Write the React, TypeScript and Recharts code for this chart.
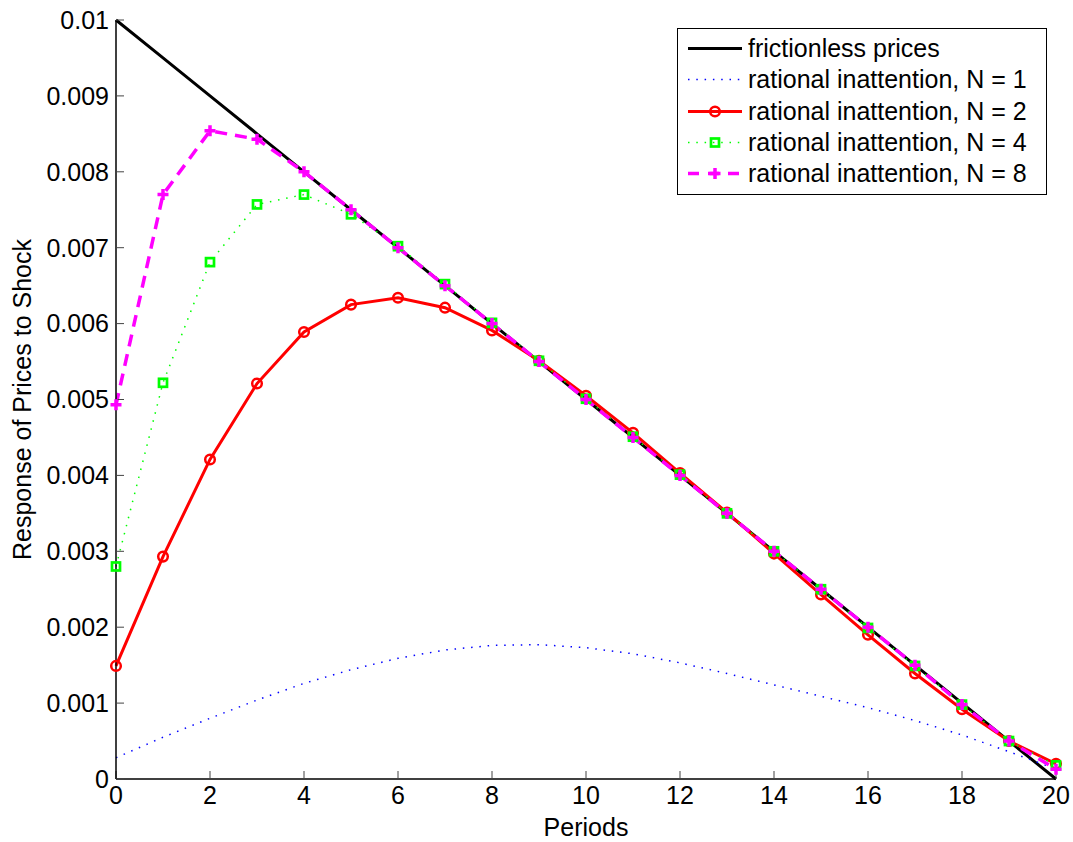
import React from 'react';
import { LineChart, Line, XAxis, YAxis, Legend, Label } from 'recharts';

const periods = [0, 1, 2, 3, 4, 5, 6, 7, 8, 9, 10, 11, 12, 13, 14, 15, 16, 17, 18, 19, 20];
const frictionless = [0.01, 0.0095, 0.009, 0.0085, 0.008, 0.0075, 0.007, 0.0065, 0.006, 0.0055, 0.005, 0.0045, 0.004, 0.0035, 0.003, 0.0025, 0.002, 0.0015, 0.001, 0.0005, 0];
const riN1 = [0.00028, 0.00055, 0.0008, 0.00104, 0.00126, 0.00144, 0.00159, 0.0017, 0.00176, 0.00177, 0.00173, 0.00165, 0.00153, 0.00139, 0.00124, 0.00109, 0.00094, 0.00077, 0.00058, 0.00036, 0.00013];
const riN2 = [0.00149, 0.00293, 0.00421, 0.00521, 0.00589, 0.00625, 0.00634, 0.00621, 0.00591, 0.00551, 0.00505, 0.00456, 0.00403, 0.00351, 0.00297, 0.00243, 0.0019, 0.00139, 0.00092, 0.0005, 0.0002];
const riN4 = [0.0028, 0.00522, 0.00681, 0.00757, 0.0077, 0.00744, 0.00702, 0.00652, 0.00601, 0.00551, 0.00501, 0.00451, 0.00401, 0.0035, 0.003, 0.0025, 0.00199, 0.00149, 0.00098, 0.0005, 0.00018];
const riN8 = [0.00493, 0.0077, 0.00854, 0.00843, 0.008, 0.0075, 0.007, 0.0065, 0.006, 0.0055, 0.005, 0.0045, 0.004, 0.0035, 0.003, 0.0025, 0.002, 0.0015, 0.00098, 0.0005, 0.00013];

const xTicks = [0, 2, 4, 6, 8, 10, 12, 14, 16, 18, 20];
const yTicks = [0, 0.001, 0.002, 0.003, 0.004, 0.005, 0.006, 0.007, 0.008, 0.009, 0.01];

const seriesLabels = [
  'frictionless prices',
  'rational inattention, N = 1',
  'rational inattention, N = 2',
  'rational inattention, N = 4',
  'rational inattention, N = 8',
];

const data = periods.map((t, i) => ({
  t,
  fp: frictionless[i],
  n1: riN1[i],
  n2: riN2[i],
  n4: riN4[i],
  n8: riN8[i],
}));

const FONT = '"Liberation Sans", Arial, Helvetica, sans-serif';
const RED = '#ff0000';
const GREEN = '#00ff00';
const MAGENTA = '#ff00ff';
const BLUE = '#0000ff';

const CircleDot = (props: any) => {
  const { cx, cy, index } = props;
  if (cx == null || cy == null) return <g key={`c${index}`} />;
  return <circle key={`c${index}`} cx={cx} cy={cy} r={4.8} fill="none" stroke={RED} strokeWidth={2.5} />;
};

const SquareDot = (props: any) => {
  const { cx, cy, index } = props;
  if (cx == null || cy == null) return <g key={`s${index}`} />;
  return <rect key={`s${index}`} x={cx - 4} y={cy - 4} width={8} height={8} fill="none" stroke={GREEN} strokeWidth={2.7} />;
};

const PlusDot = (props: any) => {
  const { cx, cy, index } = props;
  if (cx == null || cy == null) return <g key={`p${index}`} />;
  return (
    <path
      key={`p${index}`}
      d={`M${cx - 5.5},${cy}L${cx + 5.5},${cy}M${cx},${cy - 5.5}L${cx},${cy + 5.5}`}
      stroke={MAGENTA}
      strokeWidth={3.5}
      fill="none"
    />
  );
};

const LegendBox = () => {
  const sample = (i: number) => {
    const y = 15.5;
    if (i === 0) return <line x1={0} y1={y} x2={54} y2={y} stroke="#000" strokeWidth={3} />;
    if (i === 1) return <line x1={0} y1={y} x2={54} y2={y} stroke={BLUE} strokeWidth={1.5} strokeDasharray="1.5 6.8" />;
    if (i === 2)
      return (
        <g>
          <line x1={0} y1={y} x2={54} y2={y} stroke={RED} strokeWidth={3} />
          <circle cx={27} cy={y} r={4.8} fill="none" stroke={RED} strokeWidth={2.5} />
        </g>
      );
    if (i === 3)
      return (
        <g>
          <line x1={0} y1={y} x2={54} y2={y} stroke={GREEN} strokeWidth={1.5} strokeDasharray="1.5 6.8" />
          <rect x={23} y={y - 4} width={8} height={8} fill="none" stroke={GREEN} strokeWidth={2.7} />
        </g>
      );
    return (
      <g>
        <line x1={0} y1={y} x2={54} y2={y} stroke={MAGENTA} strokeWidth={3.5} strokeDasharray="11 9" />
        <path d={`M${27 - 5.5},${y}L${27 + 5.5},${y}M27,${y - 5.5}L27,${y + 5.5}`} stroke={MAGENTA} strokeWidth={3.5} />
      </g>
    );
  };
  return (
    <div
      style={{
        width: 368,
        height: 161,
        border: '1.5px solid #000',
        background: '#fff',
        boxSizing: 'content-box',
        paddingTop: 4,
        fontFamily: FONT,
        fontSize: 25,
        color: '#000',
      }}
    >
      {seriesLabels.map((lab, i) => (
        <div key={lab} style={{ display: 'flex', alignItems: 'center', height: 31.3 }}>
          <svg width={60} height={31} style={{ marginLeft: 10, flex: 'none' }}>
            {sample(i)}
          </svg>
          <span style={{ whiteSpace: 'nowrap', lineHeight: '31px' }}>{lab}</span>
        </div>
      ))}
    </div>
  );
};

const fmt = (v: number) => (v === 0 ? '0' : String(+v.toFixed(3)));

const tickStyle = { fill: '#000', fontSize: 25, fontFamily: FONT };

export default function App() {
  return (
    <div style={{ position: 'absolute', left: 0, top: 0, width: 1073, height: 842, background: '#fff' }}>
      <LineChart width={1073} height={842} data={data} margin={{ top: 20, right: 17, left: 0, bottom: 0 }}>
        <XAxis
          dataKey="t"
          type="number"
          domain={[0, 20]}
          ticks={xTicks}
          height={63}
          tickSize={-8}
          tickMargin={15}
          tick={tickStyle}
          tickLine={{ stroke: '#444', strokeWidth: 1 }}
          axisLine={{ stroke: '#000', strokeWidth: 1.5 }}
          interval={0}
        >
          <Label
            content={(p: any) => {
              const vb = p.viewBox || { x: 116, y: 779, width: 940, height: 63 };
              return (
                <text x={vb.x + vb.width / 2} y={vb.y + 48} textAnchor="middle" dominantBaseline="central" fontSize={25} fontFamily={FONT} fill="#000">
                  Periods
                </text>
              );
            }}
          />
        </XAxis>
        <XAxis
          xAxisId="top"
          orientation="top"
          dataKey="t"
          type="number"
          domain={[0, 20]}
          ticks={xTicks}
          height={0}
          tickSize={-8}
          tick={false}
          tickLine={{ stroke: '#444', strokeWidth: 1 }}
          axisLine={{ stroke: '#000', strokeWidth: 1.5 }}
          interval={0}
        />
        <YAxis
          type="number"
          domain={[0, 0.01]}
          ticks={yTicks}
          width={116}
          tickSize={-8}
          tickMargin={15}
          tick={tickStyle}
          tickFormatter={fmt}
          tickLine={{ stroke: '#444', strokeWidth: 1 }}
          axisLine={{ stroke: '#000', strokeWidth: 1.5 }}
          interval={0}
        >
          <Label
            content={(p: any) => {
              const vb = p.viewBox || { x: 0, y: 20, width: 116, height: 759 };
              const cx = vb.x + 22;
              const cy = vb.y + vb.height / 2;
              return (
                <text
                  x={cx}
                  y={cy}
                  transform={`rotate(-90, ${cx}, ${cy})`}
                  textAnchor="middle"
                  dominantBaseline="central"
                  fontSize={25}
                  fontFamily={FONT}
                  fill="#000"
                >
                  Response of Prices to Shock
                </text>
              );
            }}
          />
        </YAxis>
        <YAxis
          yAxisId="right"
          orientation="right"
          type="number"
          domain={[0, 0.01]}
          ticks={yTicks}
          width={0}
          tickSize={-8}
          tick={false}
          tickLine={{ stroke: '#444', strokeWidth: 1 }}
          axisLine={{ stroke: '#000', strokeWidth: 1.5 }}
          interval={0}
        />
        <Legend
          layout="vertical"
          align="center"
          verticalAlign="middle"
          wrapperStyle={{ position: 'absolute', left: 677, top: 28, width: 372, height: 167 }}
          content={() => <LegendBox />}
        />
        <Line dataKey="fp" name={seriesLabels[0]} stroke="#000" strokeWidth={3} dot={false} activeDot={false} isAnimationActive={false} />
        <Line dataKey="n1" name={seriesLabels[1]} stroke={BLUE} strokeWidth={1.5} strokeDasharray="1.5 6.8" dot={false} activeDot={false} isAnimationActive={false} />
        <Line dataKey="n2" name={seriesLabels[2]} stroke={RED} strokeWidth={3} dot={CircleDot} activeDot={false} isAnimationActive={false} />
        <Line dataKey="n4" name={seriesLabels[3]} stroke={GREEN} strokeWidth={1.5} strokeDasharray="1.5 6.8" dot={SquareDot} activeDot={false} isAnimationActive={false} />
        <Line dataKey="n8" name={seriesLabels[4]} stroke={MAGENTA} strokeWidth={3.5} strokeDasharray="12 8" dot={PlusDot} activeDot={false} isAnimationActive={false} />
      </LineChart>
    </div>
  );
}
